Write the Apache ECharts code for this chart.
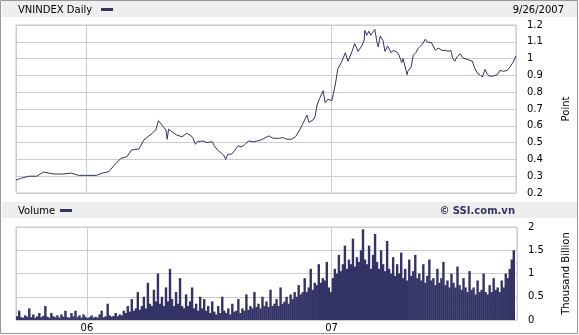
<!DOCTYPE html>
<html><head><meta charset="utf-8">
<script src="https://cdn.jsdelivr.net/npm/echarts@6/dist/echarts.min.js"></script>
<style>html,body{margin:0;padding:0;background:#fff}#c{width:579px;height:335px}</style>
</head><body><div id="c"></div>
<script>
const axisStart = '2005-09-19';
const axisEnd = '2007-10-03';
const lineDates = ['2005-09-19','2005-09-26','2005-10-08','2005-10-20','2005-10-30','2005-11-14','2005-11-29','2005-12-10','2005-12-21','2006-01-01',
'2006-01-17','2006-01-25','2006-02-04','2006-02-11','2006-02-22','2006-03-03','2006-03-10','2006-03-21','2006-03-28','2006-04-08',
'2006-04-15','2006-04-19','2006-04-24','2006-04-30','2006-05-02','2006-05-04','2006-05-09','2006-05-16','2006-05-24','2006-05-31',
'2006-06-05','2006-06-09','2006-06-13','2006-06-16','2006-06-24','2006-06-30','2006-07-08','2006-07-12','2006-07-16','2006-07-22',
'2006-07-25','2006-07-28','2006-07-31','2006-08-06','2006-08-11','2006-08-15','2006-08-21','2006-08-25','2006-08-31','2006-09-07',
'2006-09-14','2006-09-21','2006-09-30','2006-10-06','2006-10-14','2006-10-21','2006-10-27','2006-11-03','2006-11-09','2006-11-15',
'2006-11-20','2006-11-26','2006-11-29','2006-12-05','2006-12-08','2006-12-11','2006-12-15','2006-12-20','2006-12-23','2006-12-27',
'2007-01-02','2007-01-07','2007-01-11','2007-01-16','2007-01-22','2007-01-26','2007-02-01','2007-02-05','2007-02-10','2007-02-16',
'2007-02-19','2007-02-20','2007-02-23','2007-02-26','2007-03-01','2007-03-04','2007-03-07','2007-03-10','2007-03-12','2007-03-15',
'2007-03-19','2007-03-22','2007-03-26','2007-03-31','2007-04-03','2007-04-09','2007-04-12','2007-04-16','2007-04-18','2007-04-21',
'2007-04-24','2007-04-25','2007-04-30','2007-05-03','2007-05-07','2007-05-10','2007-05-16','2007-05-21','2007-05-24','2007-05-30',
'2007-06-02','2007-06-05','2007-06-09','2007-06-15','2007-06-21','2007-06-24','2007-06-28','2007-07-01','2007-07-04','2007-07-07',
'2007-07-12','2007-07-16','2007-07-22','2007-07-30','2007-08-02','2007-08-06','2007-08-11','2007-08-14','2007-08-18','2007-08-21',
'2007-08-24','2007-08-30','2007-09-05','2007-09-09','2007-09-14','2007-09-20','2007-09-24','2007-09-29','2007-10-03'];
const lineValues = [0.277,0.287,0.30,0.30,0.325,0.313,0.313,0.319,0.305,0.305,
0.305,0.318,0.327,0.36,0.406,0.416,0.456,0.462,0.515,0.55,
0.575,0.63,0.605,0.575,0.52,0.58,0.565,0.545,0.535,0.555,
0.545,0.53,0.49,0.505,0.51,0.50,0.505,0.475,0.456,0.436,
0.426,0.40,0.43,0.432,0.456,0.48,0.476,0.486,0.51,0.505,
0.51,0.52,0.54,0.527,0.525,0.53,0.52,0.52,0.535,0.575,
0.615,0.664,0.62,0.635,0.655,0.724,0.764,0.809,0.737,0.758,
0.75,0.843,0.942,0.975,1.035,0.984,1.043,1.089,1.043,1.079,
1.109,1.168,1.139,1.163,1.139,1.158,1.174,1.099,1.07,1.134,
1.109,1.043,1.075,1.035,1.049,1.039,1.02,0.976,1.0,0.95,
0.904,0.924,0.95,1.02,1.035,1.059,1.083,1.115,1.099,1.095,
1.075,1.049,1.063,1.049,1.049,1.043,1.049,1.0,0.984,1.01,
1.029,1.004,0.996,0.984,0.95,0.916,0.9,0.89,0.936,0.91,
0.896,0.896,0.904,0.93,0.924,0.93,0.95,0.98,1.016];
const volStart = '2005-09-19';
const volStepDays = 3;
const volValues = [
0.08,0.2,0.06,0.05,0.1,0.07,0.25,0.06,0.12,0.05,
0.08,0.15,0.06,0.09,0.3,0.07,0.05,0.15,0.08,0.06,
0.1,0.05,0.12,0.07,0.2,0.06,0.05,0.15,0.08,0.2,
0.06,0.1,0.05,0.12,0.07,
0.04,0.06,0.1,0.05,0.07,0.05,0.12,0.2,0.06,0.08,
0.35,0.1,0.07,0.09,0.15,0.08,0.12,0.1,
0.2,0.15,0.3,0.18,0.45,0.2,0.25,0.6,0.22,0.3,
0.5,0.25,0.8,0.35,0.3,0.65,0.4,1.0,0.35,0.5,
0.3,0.7,0.4,1.1,0.45,0.3,0.6,0.35,0.9,0.3,
0.25,0.55,0.3,0.4,0.7,0.25,0.35,0.2,0.5,0.25,
0.45,0.2,0.3,
0.15,0.4,0.18,0.12,0.3,0.15,0.5,0.2,0.15,0.25,
0.12,0.35,0.18,0.2,0.45,0.15,0.25,0.2,0.55,0.22,
0.3,0.25,0.6,0.28,0.35,0.25,0.5,0.3,0.4,0.28,
0.65,0.3,0.35,0.45,0.3,0.7,0.35,0.4,0.5,0.35,
0.55,0.45,0.6,
0.5,0.75,0.55,0.6,0.9,0.6,0.7,1.1,0.65,0.8,
0.75,1.2,0.8,0.9,0.85,1.25,0.7,0.6,
0.9,1.1,1.0,1.4,1.05,1.2,1.6,1.1,1.3,1.2,
1.75,1.15,1.35,1.25,1.5,1.95,1.3,1.2,1.6,1.1,
1.4,1.85,1.25,1.1,1.5,1.2,1.05,1.7,1.1,1.0,
1.35,0.95,1.2,1.0,1.45,0.9,1.1,0.85,1.3,0.95,
1.05,1.4,0.9,1.0,
0.85,1.2,0.8,0.95,1.3,0.85,0.9,0.75,1.1,0.8,
0.9,1.25,0.75,0.85,0.7,1.0,0.8,0.7,1.15,0.75,
0.65,0.9,0.7,0.6,1.05,0.65,0.7,0.55,0.85,0.6,
0.65,1.0,0.6,0.55,0.75,0.6,0.9,0.65,0.7,0.6,
0.85,0.7,1.0,0.9,1.1,1.3,1.5];
const yearTickLabels = {'2006':'06','2007':'07'};

const DAY = 86400000;
const t0 = new Date(volStart + 'T00:00:00').getTime();
const volData = volValues.map((v, i) => [t0 + i * volStepDays * DAY, v]);
const lineData = lineDates.map((d, i) => [d, lineValues[i]]);

const NAVY = '#333366';
const GRIDC = '#cccccc';
const FONT = 'DejaVu Sans';
const chart = echarts.init(document.getElementById('c'), null, {renderer: 'canvas'});
const YEAR = 365 * DAY;
const xBase = {
  type: 'time', min: axisStart, max: axisEnd,
  minInterval: YEAR, maxInterval: YEAR,
  axisLine: {show: false}, axisTick: {show: false},
  splitLine: {show: true, lineStyle: {color: GRIDC, width: 1}}
};
chart.setOption({
  animation: false,
  backgroundColor: '#ffffff',
  textStyle: {fontFamily: FONT},
  grid: [
    {left: 16, right: 62, top: 25, height: 168, show: true, borderColor: GRIDC, borderWidth: 1, backgroundColor: 'transparent'},
    {left: 16, right: 62, top: 227, height: 93, show: true, borderColor: GRIDC, borderWidth: 1, backgroundColor: 'transparent'}
  ],
  xAxis: [
    Object.assign({}, xBase, {gridIndex: 0, axisLabel: {show: false}}),
    Object.assign({}, xBase, {gridIndex: 1, axisLabel: {show: true, color: '#000', fontSize: 10, fontFamily: FONT, margin: 3,
      formatter: v => { const y = new Date(v).getFullYear(); return yearTickLabels[y] || ''; }}})
  ],
  yAxis: [
    {type: 'value', gridIndex: 0, position: 'right', min: 0.2, max: 1.2, interval: 0.1,
     axisLine: {show: false}, axisTick: {show: false},
     axisLabel: {color: '#000', fontSize: 10, fontFamily: FONT, margin: 11, formatter: v => String(Math.round(v * 10) / 10)},
     splitLine: {lineStyle: {color: GRIDC}},
     name: 'Point', nameLocation: 'middle', nameRotate: 90, nameGap: 45,
     nameTextStyle: {color: '#000', fontSize: 10, fontFamily: FONT}},
    {type: 'value', gridIndex: 1, position: 'right', min: 0, max: 2, interval: 0.5,
     axisLine: {show: false}, axisTick: {show: false},
     axisLabel: {color: '#000', fontSize: 10, fontFamily: FONT, margin: 11, formatter: v => String(v)},
     splitLine: {lineStyle: {color: GRIDC}},
     name: 'Thousand Billion', nameLocation: 'middle', nameRotate: 90, nameGap: 44,
     nameTextStyle: {color: '#000', fontSize: 10, fontFamily: FONT}}
  ],
  series: [
    {type: 'line', xAxisIndex: 0, yAxisIndex: 0, data: lineData, showSymbol: false, symbol: 'none',
     lineStyle: {color: NAVY, width: 1}},
    {type: 'bar', xAxisIndex: 1, yAxisIndex: 1, data: volData, barWidth: 2.4,
     itemStyle: {color: NAVY}}
  ],
  graphic: [
    {type: 'rect', z: -10, shape: {x: 0.5, y: 0.5, width: 577, height: 333}, style: {fill: 'none', stroke: '#999999', lineWidth: 1}},
    {type: 'rect', z: -5, shape: {x: 2, y: 1, width: 575, height: 16}, style: {fill: '#eeeeee'}},
    {type: 'rect', z: -5, shape: {x: 2, y: 202, width: 575, height: 16}, style: {fill: '#eeeeee'}},
    {type: 'text', style: {x: 18, y: 10, text: 'VNINDEX Daily', fill: '#000', font: '10px "DejaVu Sans"', verticalAlign: 'middle'}},
    {type: 'rect', shape: {x: 101, y: 8, width: 12, height: 3}, style: {fill: NAVY}},
    {type: 'text', style: {x: 564, y: 10, text: '9/26/2007', fill: '#000', font: '10px "DejaVu Sans"', align: 'right', verticalAlign: 'middle'}},
    {type: 'text', style: {x: 18, y: 211, text: 'Volume', fill: '#000', font: '10px "DejaVu Sans"', verticalAlign: 'middle'}},
    {type: 'rect', shape: {x: 60, y: 209, width: 12, height: 3}, style: {fill: NAVY}},
    {type: 'text', style: {x: 515, y: 211, text: '© SSI.com.vn', fill: NAVY, font: 'bold 10px "DejaVu Sans"', align: 'right', verticalAlign: 'middle'}}
  ]
});
</script>
</body></html>
